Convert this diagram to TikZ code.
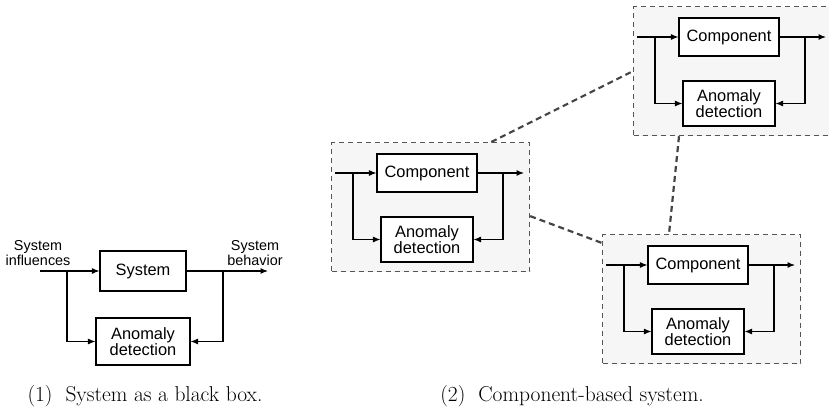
\documentclass[tikz,border=0pt]{standalone}
\usepackage{fontspec}
\setsansfont{Liberation Sans}
\usetikzlibrary{arrows.meta,calc}
\definecolor{panelfill}{HTML}{F6F6F6}
\definecolor{panelline}{HTML}{555555}
\definecolor{linkline}{HTML}{444444}
\tikzset{
  arr/.style={-{Latex[length=7.5pt,width=6pt]}, line width=1.1pt},
  blk/.style={draw, line width=1.1pt, fill=white, inner sep=0pt, align=center,
    font=\sffamily\fontsize{16.4}{16}\selectfont},
  panel/.style={draw=panelline, fill=panelfill, dash pattern=on 5pt off 4pt,
    line width=1.2pt, minimum width=198pt, minimum height=129pt, inner sep=0pt,
    anchor=north west},
  link/.style={draw=linkline, line width=2.2pt, dash pattern=on 6pt off 4pt},
  side/.style={align=center, inner sep=0pt, font=\sffamily\fontsize{14.4}{14.5}\selectfont},
  captext/.style={inner sep=0pt, anchor=base, font=\fontsize{21.5}{24}\selectfont}
}
\newcommand\compunit[3]{%
  \node[panel] (#1) at (#2,#3) {};
  \node[blk, minimum width=100pt, minimum height=38pt] (#1c) at ($(#1.north west)+(96,31)$) {Component};
  \node[blk, minimum width=92pt, minimum height=45pt] (#1a) at ($(#1.north west)+(96,97.5)$) {Anomaly\\detection};
  \coordinate (#1i) at ($(#1.north west)+(4,31)$);
  \coordinate (#1o) at ($(#1.north west)+(193,31)$);
  \coordinate (#1l) at ($(#1.north west)+(22,31)$);
  \coordinate (#1r) at ($(#1.north west)+(172,31)$);
  \draw[arr] (#1i) -- (#1c);
  \draw[arr] (#1c) -- (#1o);
  \draw[arr] (#1l) |- (#1a);
  \draw[arr] (#1r) |- (#1a);
}
\begin{document}
\begin{tikzpicture}[x=1pt,y=-1pt]
\useasboundingbox (0,0) rectangle (829,407);
% ---- (1) black box ----
\node[blk, minimum width=86pt, minimum height=40pt] (sys) at (143,271) {System};
\node[blk, minimum width=94pt, minimum height=47pt] (anom) at (143,341.5) {Anomaly\\detection};
\node[side] (infl) at (38,253) {System\\influences};
\node[side] (beh) at (255,253) {System\\behavior};
\coordinate (in) at (40,271);
\coordinate (out) at (268,271);
\coordinate (bl) at (67,271);
\coordinate (br) at (223,271);
\draw[arr] (in) -- (sys);
\draw[arr] (sys) -- (out);
\draw[arr] (bl) |- (anom);
\draw[arr] (br) |- (anom);
\node[captext] (cap1) at (145,401) {(1)\hspace{0.6em}System as a black box.};
% ---- (2) component based ----
\compunit{A}{331}{142}
\compunit{B}{633}{6}
\compunit{C}{602}{234}
\draw[link] ($(A.north east)+(-39,0)$) -- (B.west);
\draw[link] ($(A.east)+(0,9)$) -- ($(C.north west)+(0,9)$);
\draw[link] ($(B.south west)+(46,0)$) -- ($(C.north west)+(67,0)$);
\node[captext] (cap2) at (572,401) {(2)\hspace{0.6em}Component-based system.};
\end{tikzpicture}
\end{document}
